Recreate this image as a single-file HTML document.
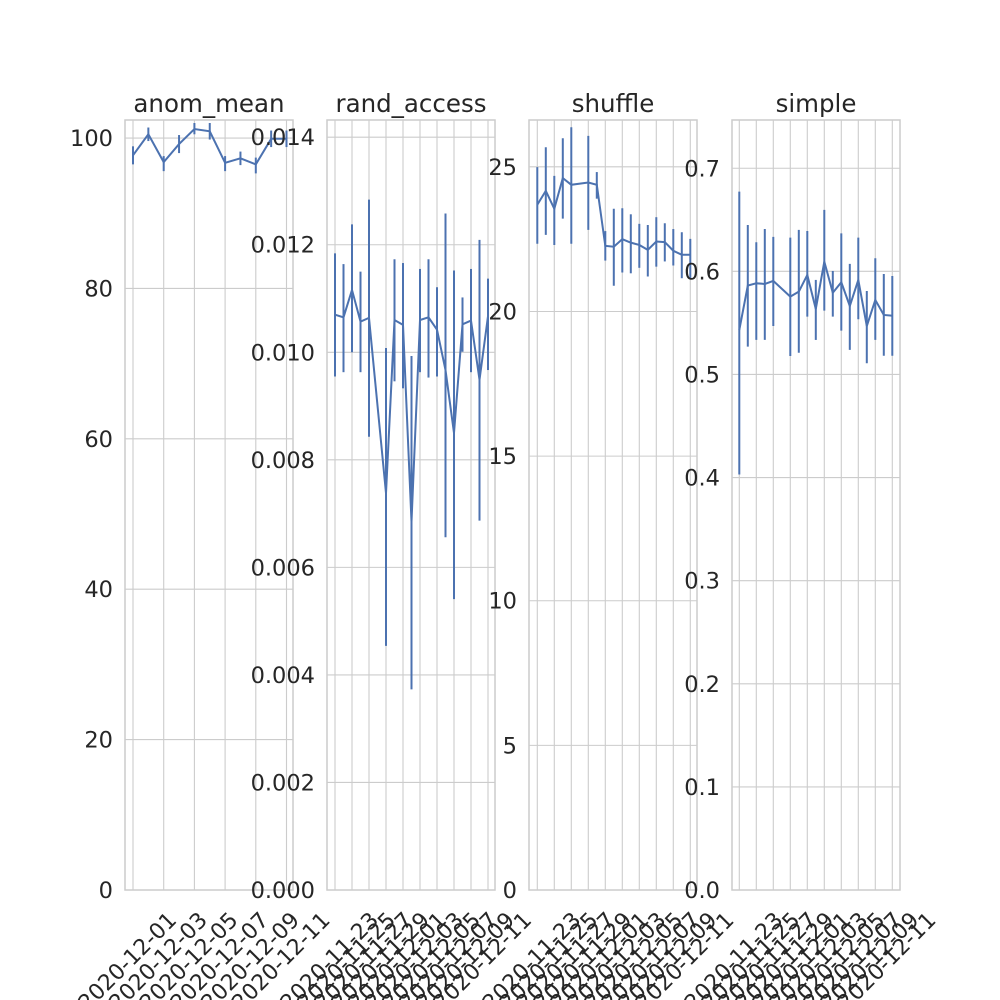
<!DOCTYPE html>
<html><head><meta charset="utf-8"><style>body{margin:0;background:#fff}svg{display:block}text{font-family:"DejaVu Sans","Liberation Sans",sans-serif;fill:#262626}</style></head>
<body>
<svg id="chart" width="1000" height="1000" viewBox="0 0 1000 1000"></svg>
<script>
// anom_mean
const anomDays=[0,1,2,3,4,5,6,7,8,9,10];
const anomMean=[97.7,100.5,96.8,99.2,101.2,100.9,96.7,97.3,96.5,99.9,99.9];
const anomLo=[96.5,99.6,95.6,98.0,100.5,99.8,95.6,96.4,95.3,98.8,98.8];
const anomHi=[98.9,101.4,97.6,100.4,102.0,102.0,97.6,98.2,97.4,101.0,101.0];
const anomTicks=["2020-12-01","2020-12-03","2020-12-05","2020-12-07","2020-12-09","2020-12-11"];
const anomYTicks=["0","20","40","60","80","100"];
// shared day grid for other panels (days from 2020-11-23)
const days=[0,1,2,3,4,6,7,8,9,10,11,12,13,14,15,16,17,18];
const dateTicks=["2020-11-23","2020-11-25","2020-11-27","2020-11-29","2020-12-01","2020-12-03","2020-12-05","2020-12-07","2020-12-09","2020-12-11"];
const randMean=[0.01070,0.01065,0.01116,0.01057,0.01064,0.00738,0.01060,0.01051,0.00685,0.01060,0.01065,0.01042,0.00967,0.00850,0.01052,0.01059,0.00949,0.01067];
const randLo=[0.00955,0.00963,0.01000,0.00963,0.00843,0.00454,0.00946,0.00933,0.00373,0.00963,0.00953,0.00955,0.00656,0.00541,0.01001,0.00963,0.00687,0.00967];
const randHi=[0.01184,0.01164,0.01238,0.01150,0.01284,0.01008,0.01173,0.01166,0.00993,0.01155,0.01173,0.01121,0.01258,0.01152,0.01102,0.01155,0.01209,0.01137];
const randYTicks=["0.000","0.002","0.004","0.006","0.008","0.010","0.012","0.014"];
const shufMean=[23.69,24.17,23.55,24.61,24.38,24.46,24.38,22.27,22.24,22.50,22.38,22.30,22.13,22.42,22.40,22.10,21.96,21.96];
const shufLo=[22.34,22.65,22.30,23.21,22.34,22.82,23.90,21.76,20.89,21.35,21.32,21.51,21.21,21.55,21.73,21.59,21.15,21.15];
const shufHi=[24.99,25.68,24.69,25.99,26.37,26.07,24.82,22.78,23.55,23.57,23.36,23.03,22.99,23.26,23.05,22.85,22.74,22.51];
const shufYTicks=["0","5","10","15","20","25"];
const simpMean=[0.5432,0.5862,0.5884,0.5878,0.5907,0.5755,0.5803,0.5965,0.5635,0.6094,0.5793,0.5894,0.5664,0.5917,0.5470,0.5723,0.5577,0.5570];
const simpLo=[0.403,0.5270,0.5335,0.5335,0.5470,0.5179,0.5211,0.5561,0.5335,0.5619,0.5561,0.5425,0.5238,0.5535,0.5109,0.5335,0.5182,0.5182];
const simpHi=[0.6773,0.6450,0.6282,0.6411,0.6334,0.6327,0.6402,0.6392,0.5917,0.6596,0.6004,0.6369,0.6072,0.6327,0.5810,0.6127,0.5975,0.5955];
const simpYTicks=["0.0","0.1","0.2","0.3","0.4","0.5","0.6","0.7"];

const svg=document.getElementById('chart');
const NS='http://www.w3.org/2000/svg';
function mk(tag,attrs,parent){const e=document.createElementNS(NS,tag);for(const k in attrs)e.setAttribute(k,attrs[k]);(parent||svg).appendChild(e);return e;}

function panel(o){
  const g=mk('g',{});
  
  
  const top=120,bot=890;
  const y=v=>bot-(v/o.ymax)*(bot-top);
  const x=d=>o.x0+o.dx*d;
  o.yticks.forEach(t=>{const v=parseFloat(t);const l=mk('line',{x1:o.left,x2:o.right,y1:y(v),y2:y(v),stroke:'#cccccc','stroke-width':1.1},g);
    
    
    const tx=mk('text',{x:o.left-12,y:y(v)+8,'text-anchor':'end','font-size':22.5},g);tx.textContent=t;
    
    });
  o.xticks.forEach((t,i)=>{const xx=x(i*o.tickStep);const l=mk('line',{x1:xx,x2:xx,y1:top,y2:bot,stroke:'#cccccc','stroke-width':1.1},g);
    
    
    const cx=xx-5,cy=962;
    const tx=mk('text',{x:cx,y:cy,'text-anchor':'middle','dominant-baseline':'central','font-size':22,transform:`rotate(-45 ${cx} ${cy})`},g);tx.textContent=t;
    
    });
  const fr=mk('rect',{x:o.left,y:top,width:o.right-o.left,height:bot-top,fill:'none',stroke:'#cccccc','stroke-width':1.5},g);
  
  
  const ti=mk('text',{x:(o.left+o.right)/2,y:112,'text-anchor':'middle','font-size':24.5},g);ti.textContent=o.name;
  
  
  o.days.forEach((d,i)=>{const b=mk('line',{x1:x(d),x2:x(d),y1:y(o.lo[i]),y2:y(o.hi[i]),stroke:'#4c72b0','stroke-width':2},g);
    
    });
  const p=mk('polyline',{points:o.days.map((d,i)=>x(d)+','+y(o.mean[i])).join(' '),fill:'none',stroke:'#4c72b0','stroke-width':2},g);
  
  
}
panel({name:'anom_mean',left:125,right:293,x0:133,dx:15.35,tickStep:2,ymax:102.4,days:anomDays,mean:anomMean,lo:anomLo,hi:anomHi,xticks:anomTicks,yticks:anomYTicks});
panel({name:'rand_access',left:327,right:495,x0:335,dx:8.5,tickStep:2,ymax:0.01432,days:days,mean:randMean,lo:randLo,hi:randHi,xticks:dateTicks,yticks:randYTicks});
panel({name:'shuffle',left:529,right:697,x0:537.3,dx:8.5,tickStep:2,ymax:26.62,days:days,mean:shufMean,lo:shufLo,hi:shufHi,xticks:dateTicks,yticks:shufYTicks});
panel({name:'simple',left:732,right:900,x0:739.3,dx:8.5,tickStep:2,ymax:0.7468,days:days,mean:simpMean,lo:simpLo,hi:simpHi,xticks:dateTicks,yticks:simpYTicks});
</script>
</body></html>
